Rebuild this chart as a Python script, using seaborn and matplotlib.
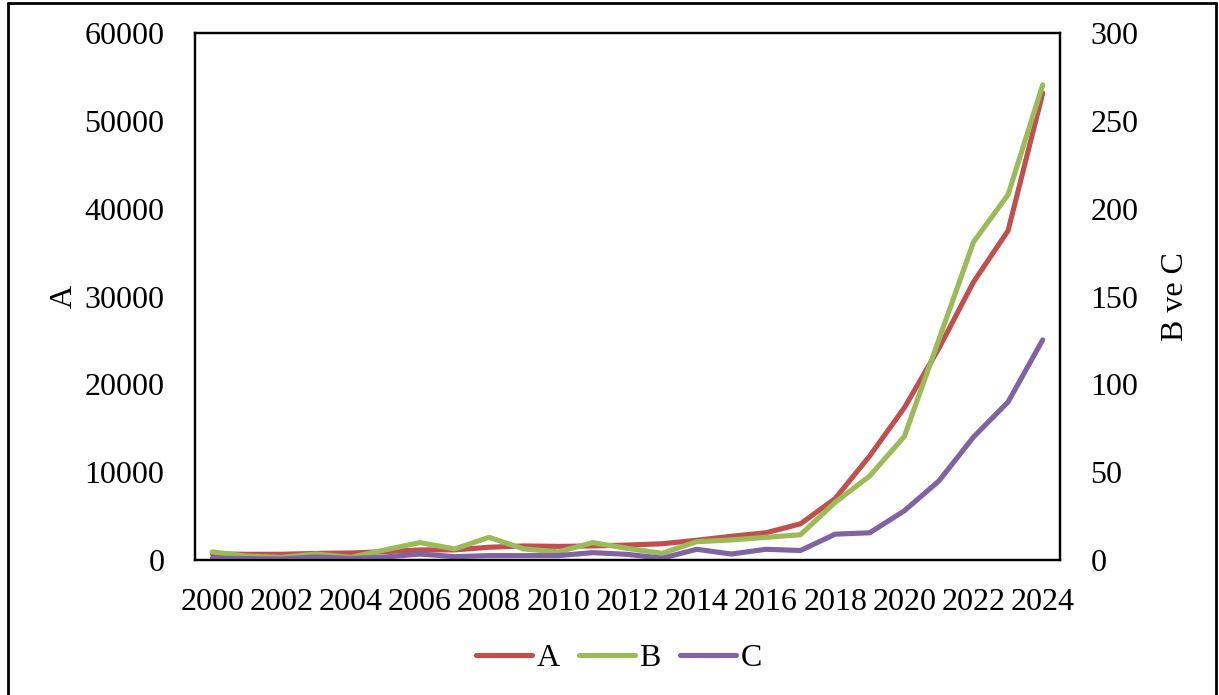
import matplotlib
matplotlib.use("Agg")
import matplotlib.pyplot as plt
from matplotlib.lines import Line2D
import seaborn as sns
import pandas as pd

# Yearly series: A on the left axis, B and C on the right axis
years = list(range(2000, 2025))
series_a = [700, 650, 650, 750, 800, 950, 1150, 1150, 1450, 1600, 1550, 1600, 1700,
            1850, 2250, 2700, 3100, 4120, 6980, 11850, 17330, 24100, 31650, 37500, 53150]
series_b = [4.6, 2.2, 1.5, 3.4, 1.5, 5.8, 9.9, 6.3, 12.9, 6.3, 4.6, 9.9, 6.6,
            3.8, 10.4, 11.4, 12.9, 14.4, 32.8, 47.8, 70.3, 125.5, 181.0, 208.0, 270.5]
series_c = [1.0, 0.8, 0.6, 1.7, 0.8, 1.7, 3.4, 1.9, 2.5, 2.5, 2.5, 4.2, 3.2,
            1.0, 6.1, 3.4, 6.1, 5.4, 14.7, 15.5, 28.0, 45.0, 70.0, 90.0, 125.3]

left_ticks = [0, 10000, 20000, 30000, 40000, 50000, 60000]
right_ticks = [0, 50, 100, 150, 200, 250, 300]
year_ticks = list(range(2000, 2025, 2))

colors = {"A": "#C0504D", "B": "#9BBB59", "C": "#8064A2"}

df = pd.DataFrame({"year": years, "A": series_a, "B": series_b, "C": series_c})

sns.set_theme(style="white")
plt.rcParams["font.family"] = ["Liberation Serif", "DejaVu Serif"]
plt.rcParams.update({"text.color": "black", "axes.labelcolor": "black",
                     "xtick.color": "black", "ytick.color": "black"})

W, H = 1219, 695
fig = plt.figure(figsize=(W / 100, H / 100), dpi=100)
ax = fig.add_axes([195 / W, 1 - 560 / H, (1060 - 195) / W, (560 - 33) / H])
ax2 = ax.twinx()

lw = 3.7
line_kw = dict(linewidth=lw, solid_capstyle="round", solid_joinstyle="round", legend=False)
sns.lineplot(data=df, x="year", y="A", color=colors["A"], ax=ax, **line_kw)
sns.lineplot(data=df, x="year", y="B", color=colors["B"], ax=ax2, **line_kw)
sns.lineplot(data=df, x="year", y="C", color=colors["C"], ax=ax2, **line_kw)

fs = 23
ax.set_xlim(1999.5, 2024.5)
ax.set_ylim(0, 60000)
ax2.set_ylim(0, 300)
ax.set_xticks(year_ticks)
ax.set_xticklabels([str(y) for y in year_ticks], fontsize=fs)
ax.set_yticks(left_ticks)
ax.set_yticklabels([str(v) for v in left_ticks], fontsize=fs)
ax2.set_yticks(right_ticks)
ax2.set_yticklabels([str(v) for v in right_ticks], fontsize=fs)

ax.tick_params(axis="x", length=0, pad=20, colors="black")
ax.tick_params(axis="y", length=0, pad=22, colors="black")
ax2.tick_params(axis="y", length=0, pad=22, colors="black")

ax.set_xlabel("")
ax.set_ylabel("A", fontsize=fs, labelpad=4, color="black")
ax2.set_ylabel("B ve C", fontsize=fs, labelpad=16, color="black")

for a in (ax, ax2):
    for s in a.spines.values():
        s.set_color("black")
        s.set_linewidth(1.6)
    a.grid(False)

handles = [Line2D([], [], color=colors[k], linewidth=lw, solid_capstyle="round") for k in ("A", "B", "C")]
fig.legend(handles, ["A", "B", "C"], loc="center", bbox_to_anchor=(619 / W, 1 - 658 / H),
           ncol=3, frameon=False, fontsize=fs, handlelength=1.75, handletextpad=0.15,
           columnspacing=0.6, borderaxespad=0, labelcolor="black")

# Outer chart border
fig.add_artist(Line2D([8 / W, 8 / W], [0, 1 - 3 / H], transform=fig.transFigure, color="black", lw=2))
fig.add_artist(Line2D([8 / W, 1216 / W], [1 - 3 / H, 1 - 3 / H], transform=fig.transFigure, color="black", lw=2))
fig.add_artist(Line2D([1216 / W, 1216 / W], [0, 1 - 3 / H], transform=fig.transFigure, color="black", lw=2))

fig.savefig("out.png", dpi=100, facecolor="white")
